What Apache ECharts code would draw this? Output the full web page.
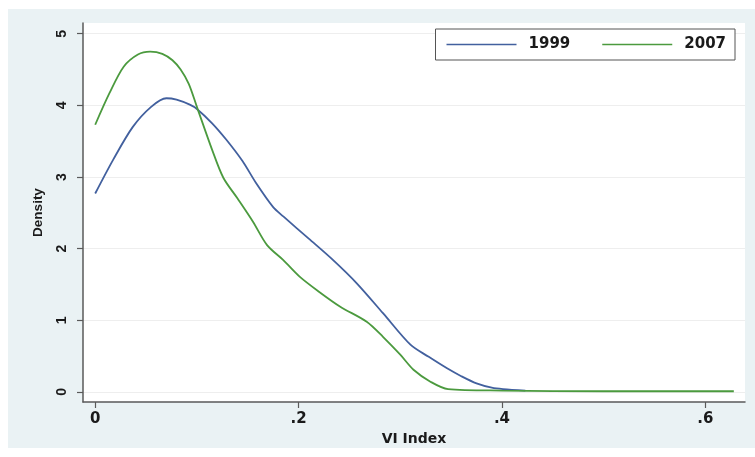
<!DOCTYPE html>
<html>
<head>
<meta charset="utf-8">
<script src="https://cdn.jsdelivr.net/npm/echarts@6/dist/echarts.min.js"></script>
<style>
  html, body { margin: 0; padding: 0; background: #ffffff; width: 755px; height: 457px; overflow: hidden; }
  #chart { position: absolute; left: 8px; top: 9px; width: 747px; height: 439px; background: #eaf2f4; }
</style>
</head>
<body>
<div id="chart"></div>
<script>
const seriesNames = ['1999', '2007'];
const xTicks = [0, 0.2, 0.4, 0.6];
const yTicks = [0, 1, 2, 3, 4, 5];
const density1999 = [
  [0, 2.77], [0.018, 3.25], [0.037, 3.70], [0.055, 3.98], [0.070, 4.10], [0.080, 4.08],
  [0.093, 4.01], [0.100, 3.95], [0.115, 3.75], [0.129, 3.52], [0.145, 3.22], [0.158, 2.92],
  [0.175, 2.58], [0.185, 2.45], [0.21, 2.14], [0.234, 1.84], [0.257, 1.52], [0.283, 1.10],
  [0.310, 0.66], [0.328, 0.49], [0.346, 0.33], [0.360, 0.22], [0.375, 0.12], [0.390, 0.06],
  [0.401, 0.04], [0.423, 0.02]
];
const density2007 = [
  [0, 3.73], [0.014, 4.17], [0.028, 4.54], [0.042, 4.71], [0.054, 4.75], [0.066, 4.72],
  [0.076, 4.63], [0.084, 4.50], [0.092, 4.30], [0.100, 3.98], [0.115, 3.38], [0.126, 2.99],
  [0.140, 2.70], [0.155, 2.38], [0.169, 2.05], [0.185, 1.84], [0.201, 1.61], [0.220, 1.40],
  [0.241, 1.19], [0.267, 0.98], [0.283, 0.77], [0.300, 0.52], [0.313, 0.31], [0.330, 0.14],
  [0.347, 0.04], [0.40, 0.02], [0.50, 0.01], [0.628, 0.01]
];

const chart = echarts.init(document.getElementById('chart'));
const wideFont = '"DejaVu Sans", Verdana, sans-serif';
const font = '"Liberation Sans", Arial, sans-serif';
chart.setOption({
  animation: false,
  textStyle: { fontFamily: font },
  grid: {
    left: 75, right: 10, top: 14, bottom: 46,
    outerBoundsMode: 'none', containLabel: false,
    show: true, backgroundColor: '#ffffff', borderWidth: 0
  },
  legend: {
    right: 20, top: 20,
    data: seriesNames,
    icon: 'rect',
    itemWidth: 70, itemHeight: 1.6, itemGap: 32,
    padding: [8, 9, 8, 11],
    backgroundColor: '#ffffff',
    borderColor: '#555555', borderWidth: 1, borderRadius: 0,
    textStyle: { fontSize: 15, color: '#1a1a1a', fontFamily: wideFont, fontWeight: 'bold',
      padding: [0, 0, 0, 7] }
  },
  xAxis: {
    type: 'value',
    min: -0.012, max: 0.639,
    interval: 0.2,
    name: 'VI Index', nameLocation: 'middle', nameGap: 29,
    nameTextStyle: { fontSize: 14, color: '#1a1a1a', fontFamily: wideFont, fontWeight: 'bold' },
    axisLine: { show: true, onZero: false, lineStyle: { color: '#5a5a5a', width: 1.5 } },
    axisTick: { show: true, length: 6, lineStyle: { color: '#5a5a5a', width: 1.2 },
      customValues: xTicks },
    axisLabel: {
      fontSize: 15, color: '#1a1a1a', margin: 10, fontFamily: wideFont, fontWeight: 'bold',
      customValues: xTicks,
      formatter: v => v === 0 ? '0' : String(Math.round(v * 10) / 10).replace(/^0/, '')
    },
    splitLine: { show: false }
  },
  yAxis: {
    type: 'value',
    min: -0.14, max: 5.15,
    name: 'Density', nameLocation: 'middle', nameGap: 38, nameRotate: 90,
    nameTextStyle: { fontSize: 13.5, color: '#1a1a1a', fontFamily: font, fontWeight: 'bold' },
    axisLine: { show: true, onZero: false, lineStyle: { color: '#5a5a5a', width: 1.5 } },
    axisTick: { show: true, length: 6, lineStyle: { color: '#5a5a5a', width: 1.2 },
      customValues: yTicks },
    axisLabel: { fontSize: 14, color: '#1a1a1a', rotate: 90, margin: 14, fontWeight: 'bold',
      fontFamily: font, customValues: yTicks },
    splitLine: { show: true, lineStyle: { color: '#eeeeee', width: 1 } }
  },
  series: [
    {
      name: seriesNames[0], type: 'line', data: density1999,
      smooth: 0.3, symbol: 'none',
      lineStyle: { color: '#42609e', width: 1.8 }, itemStyle: { color: '#42609e' }
    },
    {
      name: seriesNames[1], type: 'line', data: density2007,
      smooth: 0.3, symbol: 'none',
      lineStyle: { color: '#4b9a3e', width: 1.8 }, itemStyle: { color: '#4b9a3e' }
    }
  ]
});
</script>
</body>
</html>
